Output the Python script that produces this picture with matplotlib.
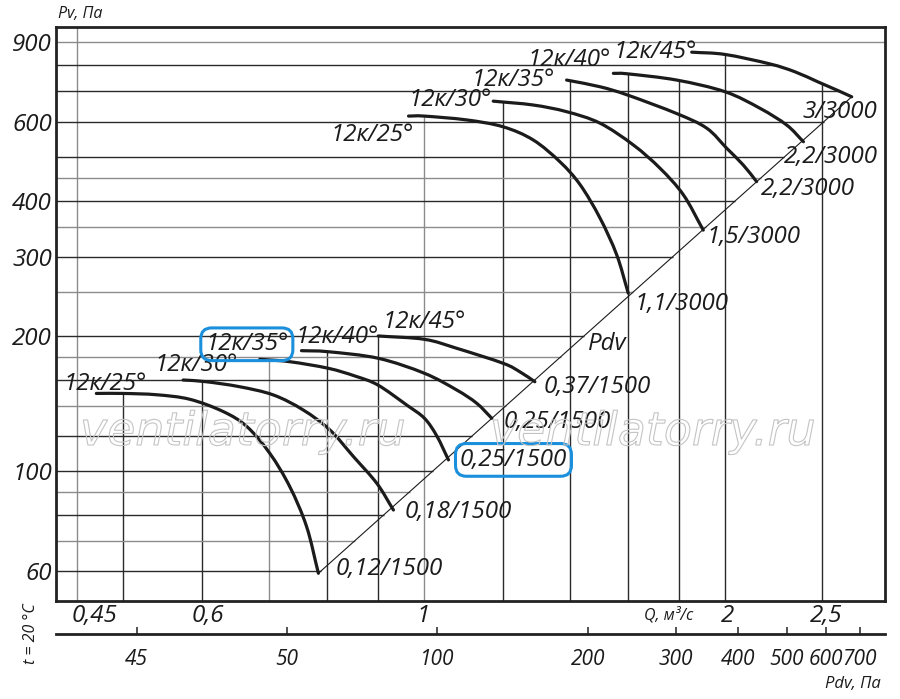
import numpy as np
import matplotlib
matplotlib.use('Agg')
import matplotlib.pyplot as plt
from matplotlib import patheffects as pe
from matplotlib.ticker import NullLocator
from matplotlib.path import Path
from matplotlib.patches import PathPatch

plt.rcParams['font.family'] = ['Open Sans', 'DejaVu Sans']
plt.rcParams['font.style'] = 'italic'

# ---------------- data ----------------
ANGLES = ['12к/25°', '12к/30°', '12к/35°', '12к/40°', '12к/45°']

# 1500 rpm family  (Q, m3/s ; Pv, Pa)
Q_1500_25 = [0.470, 0.500, 0.540, 0.583, 0.630, 0.665, 0.701, 0.734, 0.763, 0.784]
P_1500_25 = [149, 149, 148, 144.6, 135.7, 125.7, 109.6, 92.4, 75.3, 59.3]
Q_1500_30 = [0.574, 0.604, 0.654, 0.707, 0.757, 0.805, 0.850, 0.897, 0.932]
P_1500_30 = [159.6, 158.3, 154.2, 147.8, 136.9, 123.6, 107.8, 94.0, 82.0]
Q_1500_35 = [0.685, 0.734, 0.802, 0.853, 0.899, 0.961, 1.001, 1.030, 1.058]
P_1500_35 = [177.5, 175.3, 169.5, 162.9, 155.6, 140.4, 131.2, 119.8, 106.0]
Q_1500_40 = [0.754, 0.802, 0.900, 1.001, 1.078, 1.129, 1.169]
P_1500_40 = [185.5, 184.5, 178.4, 165.2, 151.7, 141.7, 131.2]
Q_1500_45 = [0.900, 1.001, 1.078, 1.200, 1.248, 1.291]
P_1500_45 = [200.0, 196.6, 187.8, 173.9, 166.3, 158.2]
MOTORS_1500 = ['0,12/1500', '0,18/1500', '0,25/1500', '0,25/1500', '0,37/1500']

# 3000 rpm family
Q_3000_25 = [0.965, 1.000, 1.103, 1.200, 1.286, 1.368, 1.433, 1.500, 1.559, 1.601]
P_3000_25 = [617, 617, 605, 584, 546, 488, 434, 366, 303, 249]
Q_3000_30 = [1.173, 1.286, 1.389, 1.500, 1.620, 1.723, 1.818, 1.903]
P_3000_30 = [666, 653, 631, 595, 532, 472, 412, 344]
Q_3000_35 = [1.389, 1.500, 1.599, 1.790, 1.918, 2.009, 2.087, 2.152]
P_3000_35 = [742, 717, 687, 625, 580, 523, 480, 441]
Q_3000_40 = [1.547, 1.599, 1.790, 2.001, 2.169, 2.307, 2.397]
P_3000_40 = [768, 766, 742, 699, 642, 589, 541]
Q_3000_45 = [1.853, 2.001, 2.219, 2.351, 2.479, 2.596, 2.679]
P_3000_45 = [856, 846, 806, 774, 735, 703, 681]
MOTORS_3000 = ['1,1/3000', '1,5/3000', '2,2/3000', '2,2/3000', '3/3000']

# dynamic pressure line
PDV_Q = [0.784, 2.679]
PDV_P = [59.3, 681]
PDV_COEF = 94.0          # Pdv = coef * Q^2

GRID_Q = [0.45, 0.5, 0.6, 0.7, 0.8, 0.9, 1.0, 1.2, 1.4, 1.6, 1.8, 2.0, 2.5]
GRID_P = [60, 70, 80, 90, 100, 120, 140, 160, 180, 200, 250, 300, 350,
          400, 450, 500, 600, 700, 800, 900]
Q_TICKS = [0.45, 0.6, 1, 2, 2.5]
Q_TICKLABELS = ['0,45', '0,6', '1', '2', '2,5']
P_TICKS = [60, 100, 200, 300, 400, 600, 900]
P_TICKLABELS = ['60', '100', '200', '300', '400', '600', '900']
PDV_TICKS = [25, 50, 100, 200, 300, 400, 500, 600, 700]
PDV_TICKLABELS = ['45', '50', '100', '200', '300', '400', '500', '600', '700']

# ---------------- styling / layout ----------------
W, H = 900, 699
L, R, T, B = 56, 885, 27, 601
PX = 0.72  # points per pixel
FS = 17.4
INK = '#1b1b1b'
BLUE = '#1a8fdc'
LIGHT_P = {900, 450, 350, 250, 180, 140, 90, 70}
LIGHT_Q = {0.45, 0.7, 1.0}

fig = plt.figure(figsize=(W / 100, H / 100), dpi=100)
ax = fig.add_axes([L / W, 1 - B / H, (R - L) / W, (B - T) / H])
ax.set_xscale('log')
ax.set_yscale('log')
ax.set_xlim(0.4283, 2.8927)
ax.set_ylim(51.45, 973.8)

curves_1500 = [(Q_1500_25, P_1500_25), (Q_1500_30, P_1500_30), (Q_1500_35, P_1500_35),
               (Q_1500_40, P_1500_40), (Q_1500_45, P_1500_45)]
curves_3000 = [(Q_3000_25, P_3000_25), (Q_3000_30, P_3000_30), (Q_3000_35, P_3000_35),
               (Q_3000_40, P_3000_40), (Q_3000_45, P_3000_45)]
all_curves = curves_1500 + curves_3000


def p_at_q(qs, ps, q):
    lq = np.log(np.asarray(qs, float))
    x = np.log(q)
    if x < lq.min() - 1e-9 or x > lq.max() + 1e-9:
        return None
    o = np.argsort(lq)
    return float(np.exp(np.interp(x, lq[o], np.log(np.asarray(ps, float))[o])))


def q_at_p(qs, ps, p):
    lp = np.log(np.asarray(ps, float))
    x = np.log(p)
    if x < lp.min() - 1e-9 or x > lp.max() + 1e-9:
        return None
    o = np.argsort(lp, kind='stable')
    return float(np.exp(np.interp(x, lp[o], np.log(np.asarray(qs, float))[o])))


def smooth_path(qs, ps):
    """Catmull-Rom Bezier path through the read points (in log-log space)."""
    pts = np.column_stack([np.log(np.asarray(qs, float)), np.log(np.asarray(ps, float))])
    ext = np.vstack([2 * pts[0] - pts[1], pts, 2 * pts[-1] - pts[-2]])
    verts = [pts[0]]
    codes = [Path.MOVETO]
    for i in range(len(pts) - 1):
        p0, p1, p2, p3 = ext[i], ext[i + 1], ext[i + 2], ext[i + 3]
        verts += [p1 + (p2 - p0) / 6.0, p2 - (p3 - p1) / 6.0, p2]
        codes += [Path.CURVE4] * 3
    return Path(np.exp(np.array(verts)), codes)


ylo, yhi = ax.get_ylim()
xlo, xhi = ax.get_xlim()

# vertical grid lines: from bottom up to the uppermost curve
for q in GRID_Q:
    tops = [v for v in (p_at_q(c[0], c[1], q) for c in all_curves) if v is not None]
    top = max(tops) if tops else yhi
    col = '#8c8c8c' if q in LIGHT_Q else '#2a2a2a'
    ax.vlines(q, ylo, top, colors=col, lw=1.0, zorder=1)

# horizontal grid lines: from left up to the Pdv line / outer curve
for p in GRID_P:
    ends = [v for v in (q_at_p(c[0], c[1], p) for c in all_curves + [(PDV_Q, PDV_P)])
            if v is not None]
    end = max(ends) if ends else xhi
    col = '#8c8c8c' if p in LIGHT_P else '#2a2a2a'
    ax.hlines(p, xlo, end, colors=col, lw=1.0, zorder=1)

# Pdv line
ax.plot(PDV_Q, PDV_P, color=INK, lw=0.8, zorder=2)
ax.text(1.525, 186, 'Pdv', ha='center', va='baseline', fontsize=FS, color=INK, zorder=5)

# curves
for q, p in all_curves:
    ax.add_patch(PathPatch(smooth_path(q, p), fill=False, ec=INK, lw=2.3,
                           capstyle='round', zorder=3))

BLADE_OFF_1500 = [(9, -3), (13, -9), (-13, -9), (36, -8), (46, -8)]
BLADE_OFF_3000 = [(-36, 25), (-43, 5), (-53, 6), (-44, -7), (-37, 6)]
MOTOR_OFF_1500 = [(71, 2), (65, 8), (65, 6), (65, 10), (62, 11)]
MOTOR_OFF_3000 = [(53, 17), (50, 13), (51, 13), (27, 21), (-12, 21)]
BOXED_1500 = 2

boxstyle = dict(boxstyle='round,pad=0.18,rounding_size=0.45', fc='none', ec=BLUE, lw=2.2)

for fam, boff, moff, motors in ((curves_1500, BLADE_OFF_1500, MOTOR_OFF_1500, MOTORS_1500),
                                 (curves_3000, BLADE_OFF_3000, MOTOR_OFF_3000, MOTORS_3000)):
    for i, (q, p) in enumerate(fam):
        boxed = (fam is curves_1500 and i == BOXED_1500)
        ax.annotate(ANGLES[i], xy=(q[0], p[0]), xytext=(boff[i][0] * PX, -boff[i][1] * PX),
                    textcoords='offset points', ha='center', va='baseline',
                    fontsize=FS, color=INK, zorder=5,
                    bbox=boxstyle if boxed else None)
        ax.annotate(motors[i], xy=(q[-1], p[-1]), xytext=(moff[i][0] * PX, -moff[i][1] * PX),
                    textcoords='offset points', ha='center', va='baseline',
                    fontsize=FS, color=INK, zorder=5,
                    bbox=boxstyle if boxed else None)

# axes styling
for s in ax.spines.values():
    s.set_linewidth(2.0)
    s.set_color('#222222')
ax.xaxis.set_major_locator(NullLocator())
ax.xaxis.set_minor_locator(NullLocator())
ax.set_yticks(P_TICKS, labels=P_TICKLABELS)
ax.yaxis.set_minor_locator(NullLocator())
ax.tick_params(axis='y', length=0, pad=3, labelsize=FS, labelcolor=INK)

# Q tick labels
Q_LABEL_DX = [17.5, 6, -1, 3, 4]
for q, lab, dx in zip(Q_TICKS, Q_TICKLABELS, Q_LABEL_DX):
    ax.annotate(lab, xy=(q, 0), xycoords=('data', 'axes fraction'),
                xytext=(dx * PX, -3 * PX), textcoords='offset points',
                ha='center', va='top', fontsize=FS, color=INK, annotation_clip=False)

# Pdv secondary axis
sec = ax.secondary_xaxis(-(634 - B) / (B - T),
                         functions=(lambda q: PDV_COEF * np.asarray(q, float) ** 2,
                                    lambda p: np.sqrt(np.clip(np.asarray(p, float), 1e-9, None) / PDV_COEF)))
sec.set_xticks(PDV_TICKS, labels=PDV_TICKLABELS)
sec.xaxis.set_minor_locator(NullLocator())
sec.tick_params(axis='x', direction='in', length=5, width=1.1, pad=11, labelsize=15,
                labelcolor=INK, color='#222222')
for s in sec.spines.values():
    s.set_linewidth(2.0)
    s.set_color('#222222')

# axis captions
fig.text(58 / W, 1 - 14 / H, 'Pv, Па', fontsize=11.5, ha='left', va='center', color=INK)
fig.text(669 / W, 1 - 615 / H, 'Q, м³/с', fontsize=11.5, ha='center', va='center', color=INK)
fig.text(853 / W, 1 - 684 / H, 'Pdv, Па', fontsize=12, ha='center', va='center', color=INK)
fig.text(31 / W, 1 - 634 / H, 't = 20 °C', rotation=90, fontsize=11.5, ha='center',
         va='center', color=INK)

# watermark (hollow text)
for x0 in (80, 490):
    fig.text(x0 / W, 1 - 445 / H, 'ventilatorry.ru', fontsize=33, color='none',
             family='DejaVu Sans', style='oblique',
             ha='left', va='baseline', zorder=10,
             path_effects=[pe.Stroke(linewidth=0.8, foreground='#c4c4c4')])

fig.savefig('out.png', dpi=100)
